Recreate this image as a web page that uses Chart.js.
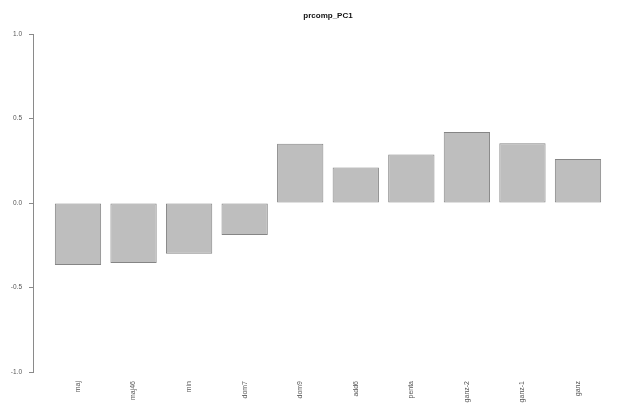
<!DOCTYPE html>
<html>
<head>
<meta charset="utf-8">
<script src="https://cdn.jsdelivr.net/npm/chart.js@4"></script>
<style>
  body { margin: 0; background: #fff; }
  #wrap { width: 640px; height: 415px; }
</style>
</head>
<body>
<div id="wrap"><canvas id="pcChart"></canvas></div>
<script>
const categories = ['maj', 'maj46', 'min', 'dom7', 'dom9', 'add6', 'penta', 'ganz-2', 'ganz-1', 'ganz'];
const pc1Values = [-0.367, -0.355, -0.30, -0.19, 0.35, 0.21, 0.287, 0.42, 0.353, 0.26];
const yTicks = [-1.0, -0.5, 0.0, 0.5, 1.0];
const chartTitle = 'prcomp_PC1';

// R barplot layout: bar width 1, space 0.2
const barPos = categories.map((c, i) => 0.7 + 1.2 * i);

const titlePlugin = {
   id: 'plotTitle',
   afterDraw(chart) {
      const { ctx, chartArea } = chart;
      ctx.save();
      ctx.font = 'bold 8px "Liberation Sans", Arial, sans-serif';
      ctx.fillStyle = '#111';
      ctx.textAlign = 'center';
      ctx.textBaseline = 'middle';
      ctx.fillText(chartTitle, (chartArea.left + chartArea.right) / 2, 16);
      ctx.restore();
   }
};

const ctx = document.getElementById('pcChart').getContext('2d');
new Chart(ctx, {
   type: 'bar',
   data: {
      datasets: [{
         data: barPos.map((x, i) => ({ x: x, y: pc1Values[i] })),
         backgroundColor: '#bebebe',
         borderColor: '#858585',
         borderWidth: 1,
         borderSkipped: false,
         barPercentage: 1 / 1.2,
         categoryPercentage: 1
      }]
   },
   options: {
      responsive: true,
      maintainAspectRatio: false,
      animation: false,
      layout: { padding: { top: 34, right: 17, left: 0, bottom: 0 } },
      plugins: {
         legend: { display: false },
         tooltip: { enabled: false }
      },
      scales: {
         x: {
            type: 'linear',
            offset: false,
            min: -0.272,
            max: 12.472,
            afterBuildTicks: (scale) => {
               scale.ticks = barPos.map(v => ({ value: v }));
            },
            afterFit: (scale) => { scale.height = 43; },
            grid: { display: false, drawTicks: false, offset: false },
            border: { display: false },
            ticks: {
               autoSkip: false,
               minRotation: 90,
               maxRotation: 90,
               padding: 9,
               color: '#555',
               font: { size: 7, family: '"Liberation Sans", Arial, sans-serif' },
               callback: (value, index) => categories[index]
            }
         },
         y: {
            min: -1,
            max: 1,
            afterBuildTicks: (scale) => {
               scale.ticks = yTicks.map(v => ({ value: v }));
            },
            afterFit: (scale) => { scale.width = 33; },
            grid: {
               drawOnChartArea: false,
               drawTicks: true,
               tickLength: 4,
               color: '#8a8a8a'
            },
            border: { display: true, color: '#8a8a8a', width: 1 },
            ticks: {
               padding: 7,
               color: '#555',
               font: { size: 6.5, family: '"Liberation Sans", Arial, sans-serif' },
               callback: (value) => value.toFixed(1)
            }
         }
      }
   },
   plugins: [titlePlugin]
});
</script>
</body>
</html>
